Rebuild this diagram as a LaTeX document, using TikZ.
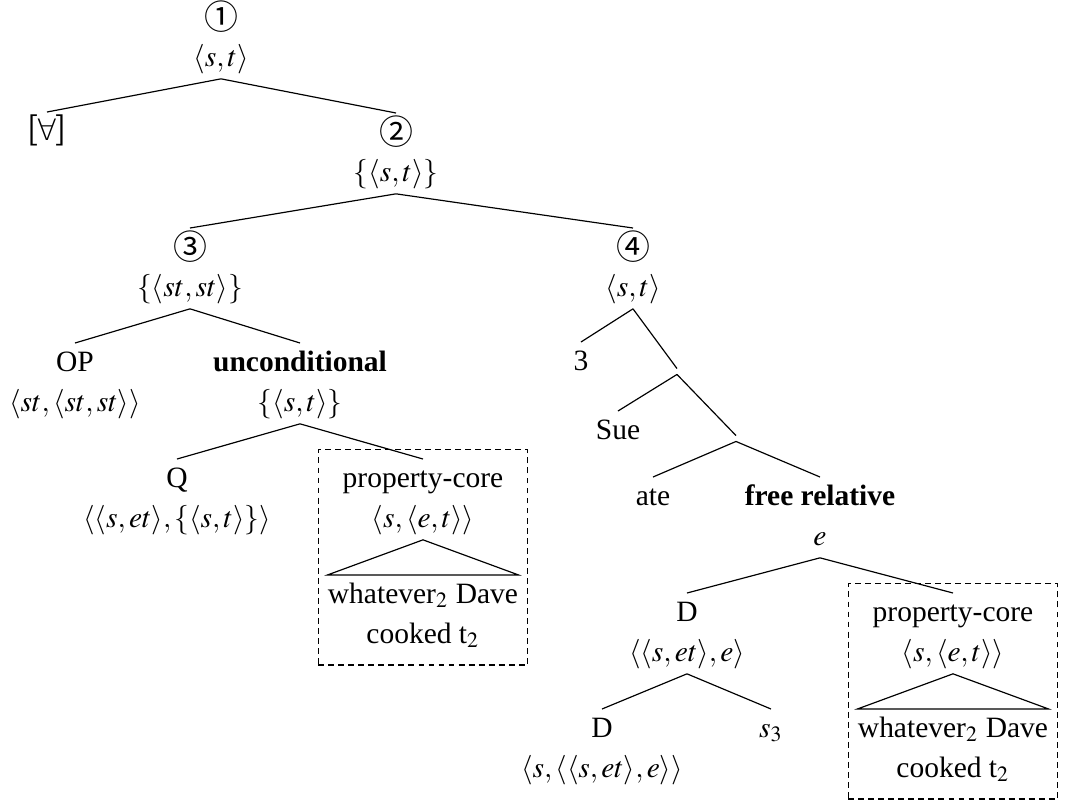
\documentclass[tikz,border=0pt]{standalone}
\usepackage{mathptmx}
\usepackage[no-math]{fontspec}
\setmainfont{Liberation Serif}
\newfontfamily\circfont{Noto Sans CJK JP}
\newfontfamily\symfont{DejaVu Sans ExtraLight}
\usetikzlibrary{fit}
\newcommand{\twol}[2]{\strut#1\\\strut#2}
\newcommand{\circnum}[1]{\smash{\raisebox{-0.9pt}{\circfont\fontsize{11.5}{13.5}\selectfont#1}}}
\tikzset{
  lbl/.style={align=center, inner sep=0pt, anchor=north, font=\fontsize{10}{13.5}\selectfont},
  knot/.style={inner sep=0.8pt},
  pcbox/.style={draw, dash pattern=on 2pt off 1.4pt, inner sep=3.1pt}
}
\begin{document}
\begin{tikzpicture}[x=0.339pt, y=-0.339pt]
\useasboundingbox (0,0) rectangle (1089,802);
% ====== upper spine ======
\node[lbl] (root) at (221,-2) {\twol{\circnum{①}}{$\langle s,t\rangle$}};
\node[lbl] (forall) at (47,112) {\strut{\circfont\fontsize{11}{13.5}\selectfont[}\kern-0.6pt{\symfont ∀}\kern-0.6pt{\circfont\fontsize{11}{13.5}\selectfont]}};
\node[lbl] (two) at (396,113) {\twol{\circnum{②}}{$\{\langle s,t\rangle\}$}};
\node[lbl] (three) at (190,228) {\twol{\circnum{③}}{$\{\langle st,st\rangle\}$}};
\node[lbl] (four) at (633,228) {\twol{\circnum{④}}{$\langle s,t\rangle$}};
% ====== left branch: unconditional ======
\node[lbl] (op) at (75,343) {\twol{OP}{$\langle st,\langle st,st\rangle\rangle$}};
\node[lbl] (uncond) at (300,343) {\twol{\textbf{unconditional}}{$\{\langle s,t\rangle\}$}};
\node[lbl] (q) at (177,459) {\twol{Q}{$\langle\langle s,et\rangle,\{\langle s,t\rangle\}\rangle$}};
\node[lbl] (pcL) at (423,459) {\twol{property-core}{$\langle s,\langle e,t\rangle\rangle$}};
\node[lbl] (leafL) at (423,575) {\twol{whatever$_2$ Dave}{cooked t$_2$}};
% ====== right branch: free relative ======
\node[lbl] (num3) at (581,342) {\strut 3};
\node[knot] (n1) at (677,371.5) {};
\node[lbl] (sue) at (618,411) {\strut Sue};
\node[knot] (n2) at (736,438.5) {};
\node[lbl] (ate) at (653,477) {\strut ate};
\node[lbl] (frel) at (820,477) {\twol{\textbf{free relative}}{$e$}};
\node[lbl] (d) at (687,593) {\twol{D}{$\langle\langle s,et\rangle,e\rangle$}};
\node[lbl] (pcR) at (953,593) {\twol{property-core}{$\langle s,\langle e,t\rangle\rangle$}};
\node[lbl] (leafR) at (953,709) {\twol{whatever$_2$ Dave}{cooked t$_2$}};
\node[lbl] (d2) at (602,709) {\twol{D}{$\langle s,\langle\langle s,et\rangle,e\rangle\rangle$}};
\node[lbl] (s3) at (771,709) {\strut$s_3$};
% ====== branches ======
\foreach \a/\b in {root/forall, root/two, two/three, two/four, three/op, three/uncond,
    uncond/q, uncond/pcL, four/num3, four/n1, n1/sue, n1/n2, n2/ate, n2/frel,
    frel/d, frel/pcR, d/d2, d/s3}
  \draw (\a.south) -- (\b.north);
% roofs over the unanalysed cores
\draw (pcL.south) -- (leafL.north west) -- (leafL.north east) -- cycle;
\draw (pcR.south) -- (leafR.north west) -- (leafR.north east) -- cycle;
% dashed boxes
\node[pcbox, fit=(pcL)(leafL)] (boxL) {};
\node[pcbox, fit=(pcR)(leafR)] (boxR) {};
\end{tikzpicture}
\end{document}
